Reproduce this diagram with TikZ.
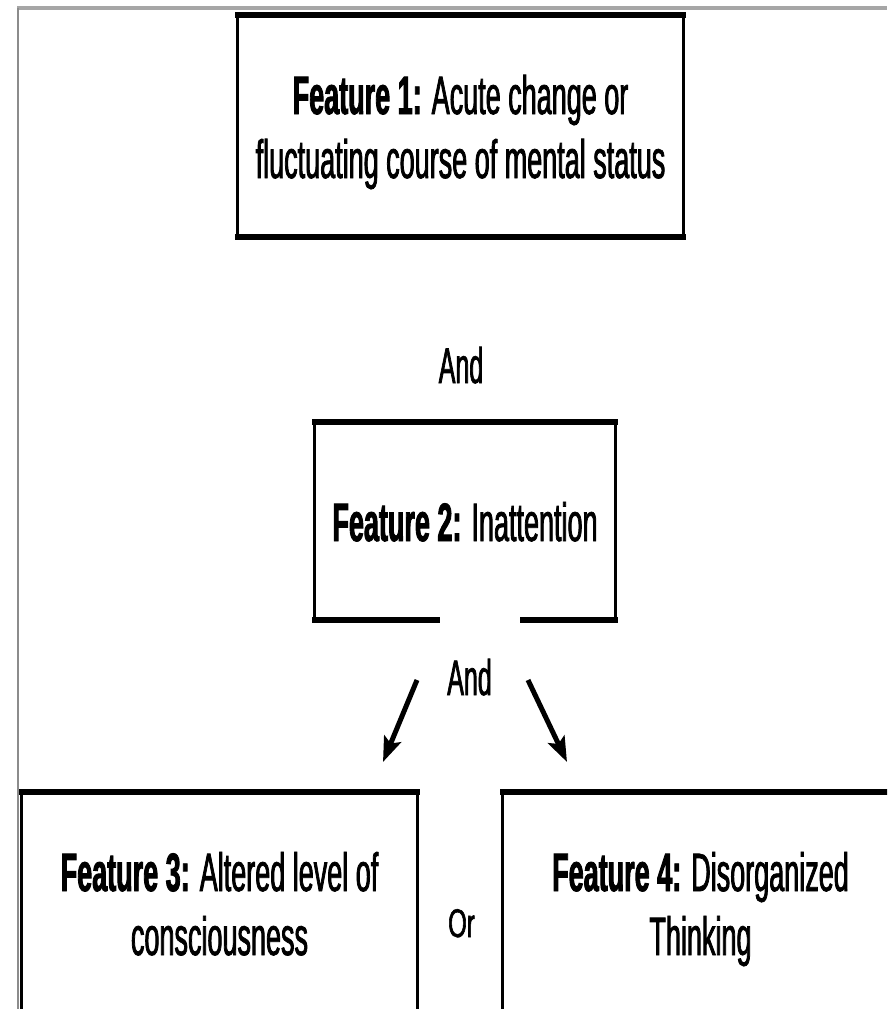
\documentclass[tikz,border=0pt]{standalone}
\usepackage{fontspec}
\setmainfont{Liberation Sans}[FakeStretch=0.5, UprightFeatures={FakeBold=1.4}, BoldFeatures={FakeBold=1.6}]
\newfontfamily\orfont{Liberation Sans}[FakeStretch=0.6, FakeBold=1.4]
\usetikzlibrary{arrows.meta,calc}
\newcommand\ls{\rule[-12pt]{0pt}{64pt}}
\begin{document}
\begin{tikzpicture}[x=1pt,y=-1pt,
  box/.style={draw=none, rectangle, inner sep=0pt, align=center, font=\fontsize{54}{64}\selectfont},
  side/.style={line width=3pt},
  edge/.style={line width=5.5pt, line cap=rect},
  lbl/.style={anchor=base, inner sep=0pt, font=\fontsize{50}{60}\selectfont},
  arr/.style={line width=5pt, -{Stealth[length=25pt,width=18pt,inset=5pt]}},
  framel/.style={draw=black!45, line width=2.5pt},
  framet/.style={draw=black!35, line width=4pt}]
\clip (0,0) rectangle (887,1009);
\coordinate (pb) at (0,1009);
% page frame
\draw[framet] (17,7.5) -- (887,7.5);
\draw[framel] (18,7.5) -- (18,1009);
% boxes
\node[box, minimum width=445pt, minimum height=222pt] (f1) at (460.5,126)
  {\ls\textbf{Feature 1:} Acute change or\\\ls fluctuating course of mental status};
\node[box, minimum width=300pt, minimum height=198pt] (f2) at (465,521)
  {\ls\textbf{Feature 2:} Inattention};
\node[box, minimum width=395pt, minimum height=222pt] (f3) at (219.5,903)
  {\ls\textbf{Feature 3:} Altered level of\\\ls consciousness};
\node[box, minimum width=395pt, minimum height=222pt] (f4) at (700.5,903)
  {\ls\textbf{Feature 4:} Disorganized\\\ls Thinking};
% box 1 border
\draw[side] (f1.north west) -- (f1.south west);
\draw[side] (f1.north east) -- (f1.south east);
\draw[edge] (f1.north west) -- (f1.north east);
\draw[edge] (f1.south west) -- (f1.south east);
% box 2 border with gap
\draw[side] (f2.north west) -- (f2.south west);
\draw[side] (f2.north east) -- (f2.south east);
\draw[edge] (f2.north west) -- (f2.north east);
\coordinate (gapl) at ($(f2.south)+(-28,0)$);
\coordinate (gapr) at ($(f2.south)+(58,0)$);
\draw[edge] (f2.south west) -- (gapl);
\draw[edge] (gapr) -- (f2.south east);
% box 3 and 4 borders (open below)
\draw[side] (f3.north west) -- (f3.north west |- pb);
\draw[side] (f3.north east) -- (f3.north east |- pb);
\draw[edge] (f3.north west) -- (f3.north east);
\draw[side] (f4.north west) -- (f4.north west |- pb);
\draw[side] (f4.north east) -- (f4.north east |- pb);
\draw[edge] (f4.north west) -- (f4.north east);
% labels
\node[lbl] (and1) at (461,383) {And};
\node[lbl] (and2) at (469.5,695) {And};
\node[lbl, font=\orfont\fontsize{40}{48}\selectfont] (or) at (461.5,937) {Or};
% arrows
\coordinate (a1s) at (417,680);
\coordinate (a1e) at (383,762);
\coordinate (a2s) at (528,680);
\coordinate (a2e) at (567,762);
\draw[arr] (a1s) -- (a1e);
\draw[arr] (a2s) -- (a2e);
\end{tikzpicture}
\end{document}
